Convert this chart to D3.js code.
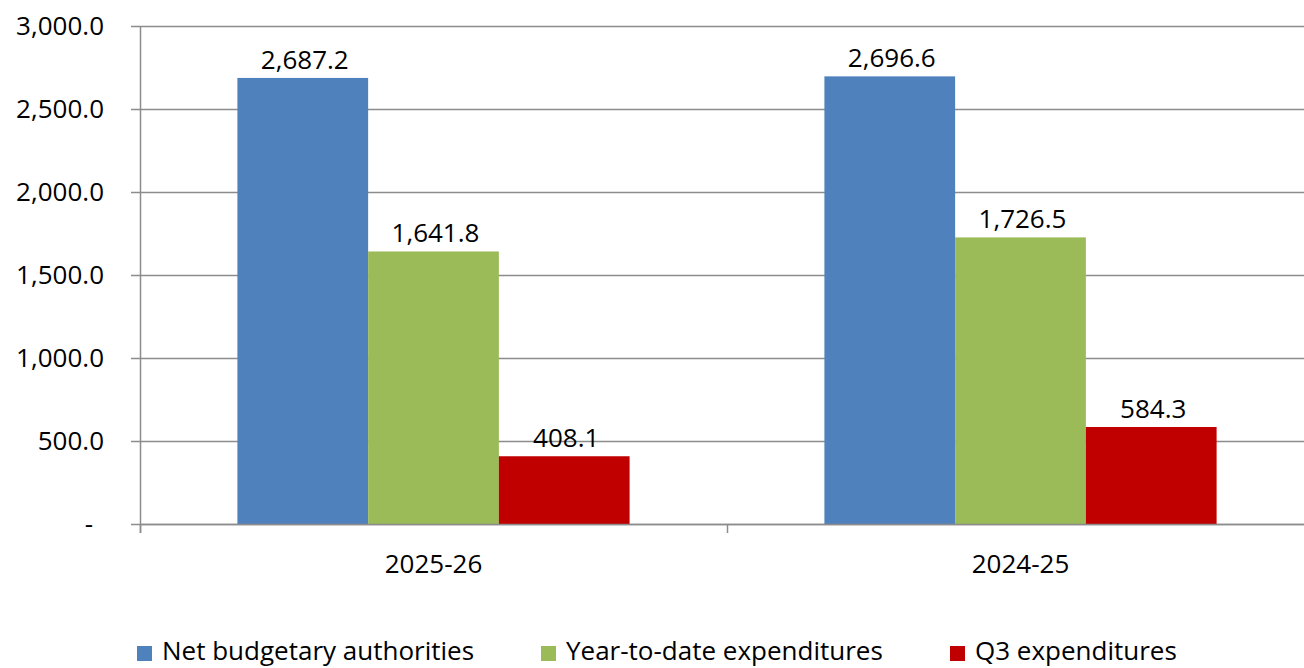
<!DOCTYPE html>
<html lang="en">
<head>
  <meta charset="UTF-8" />
  <title>Budgetary authorities and expenditures</title>
  <script src="https://d3js.org/d3.v7.min.js"></script>
  <style>
    body {
      margin: 0;
      background: white;
      font-family: "Open Sans", sans-serif;
    }
    svg text {
      fill: #000;
    }
  </style>
</head>
<body>
  <svg width="1304" height="668"></svg>

  <script>
    const categories = ["2025-26", "2024-25"];
    const seriesNames = ["Net budgetary authorities", "Year-to-date expenditures", "Q3 expenditures"];
    const netAuthorities = [2687.2, 2696.6];
    const ytdExpenditures = [1641.8, 1726.5];
    const q3Expenditures = [408.1, 584.3];
    const yTicks = [0, 500, 1000, 1500, 2000, 2500, 3000];

    const colors = ["#4f81bd", "#9bbb59", "#c00000"];
    const seriesValues = [netAuthorities, ytdExpenditures, q3Expenditures];

    const svg = d3.select("svg");
    const plotLeft = 140, plotRight = 1314, plotTop = 26, plotBottom = 524;
    const fontSize = 26;

    const y = d3.scaleLinear().domain([0, 3000]).range([plotBottom, plotTop]);
    const x0 = d3.scaleBand().domain(categories).range([plotLeft, plotRight]).padding(0);
    const x1 = d3.scaleBand().domain(seriesNames)
      .range([0, x0.bandwidth()])
      .paddingInner(0)
      .paddingOuter(0.745);

    const fmt = d3.format(",.1f");

    // gridlines
    svg.append("g")
      .selectAll("line")
      .data(yTicks)
      .join("line")
      .attr("x1", plotLeft - 9)
      .attr("x2", plotRight)
      .attr("y1", d => Math.round(y(d)) + 0.5)
      .attr("y2", d => Math.round(y(d)) + 0.5)
      .attr("stroke", "#8c8c8c")
      .attr("stroke-width", 1.5);

    // y labels
    svg.append("g")
      .selectAll("text")
      .data(yTicks)
      .join("text")
      .attr("x", d => d === 0 ? 93 : 104)
      .attr("y", d => y(d))
      .attr("dy", "0.35em")
      .attr("text-anchor", "end")
      .attr("font-size", fontSize)
      .text(d => d === 0 ? "-" : fmt(d));

    // bars
    const groups = svg.append("g")
      .selectAll("g")
      .data(categories)
      .join("g")
      .attr("transform", d => `translate(${x0(d)},0)`);

    groups.selectAll("rect")
      .data((d, i) => seriesNames.map((s, j) => ({ s, j, v: seriesValues[j][i] })))
      .join("rect")
      .attr("x", d => x1(d.s))
      .attr("width", x1.bandwidth())
      .attr("y", d => y(d.v))
      .attr("height", d => y(0) - y(d.v))
      .attr("fill", d => colors[d.j]);

    groups.selectAll("text")
      .data((d, i) => seriesNames.map((s, j) => ({ s, j, v: seriesValues[j][i] })))
      .join("text")
      .attr("x", d => x1(d.s) + x1.bandwidth() / 2 + 2)
      .attr("y", d => y(d.v) - 9)
      .attr("text-anchor", "middle")
      .attr("font-size", fontSize)
      .text(d => fmt(d.v));

    // axis lines
    svg.append("line")
      .attr("x1", plotLeft + 0.5).attr("x2", plotLeft + 0.5)
      .attr("y1", plotTop).attr("y2", plotBottom + 9)
      .attr("stroke", "#8c8c8c").attr("stroke-width", 1.5);

    svg.append("line")
      .attr("x1", plotLeft).attr("x2", plotRight)
      .attr("y1", plotBottom + 0.5).attr("y2", plotBottom + 0.5)
      .attr("stroke", "#8c8c8c").attr("stroke-width", 1.5);

    // category ticks at band boundaries
    const bounds = categories.map(c => x0(c)).concat([plotRight]);
    svg.append("g")
      .selectAll("line")
      .data(bounds)
      .join("line")
      .attr("x1", d => Math.round(d) + 0.5)
      .attr("x2", d => Math.round(d) + 0.5)
      .attr("y1", plotBottom)
      .attr("y2", plotBottom + 9)
      .attr("stroke", "#8c8c8c")
      .attr("stroke-width", 1.5);

    svg.append("g")
      .selectAll("text")
      .data(categories)
      .join("text")
      .attr("x", d => x0(d) + x0.bandwidth() / 2)
      .attr("y", 573)
      .attr("text-anchor", "middle")
      .attr("font-size", fontSize)
      .text(d => d);

    // legend
    const legendX = [137, 541, 950];
    const legend = svg.append("g")
      .selectAll("g")
      .data(seriesNames)
      .join("g")
      .attr("transform", (d, i) => `translate(${legendX[i]},0)`);

    legend.append("rect")
      .attr("x", 0).attr("y", 646)
      .attr("width", 15).attr("height", 15)
      .attr("fill", (d, i) => colors[i]);

    legend.append("text")
      .attr("x", 25)
      .attr("y", 660)
      .attr("font-size", fontSize)
      .text(d => d);
  </script>
</body>
</html>
